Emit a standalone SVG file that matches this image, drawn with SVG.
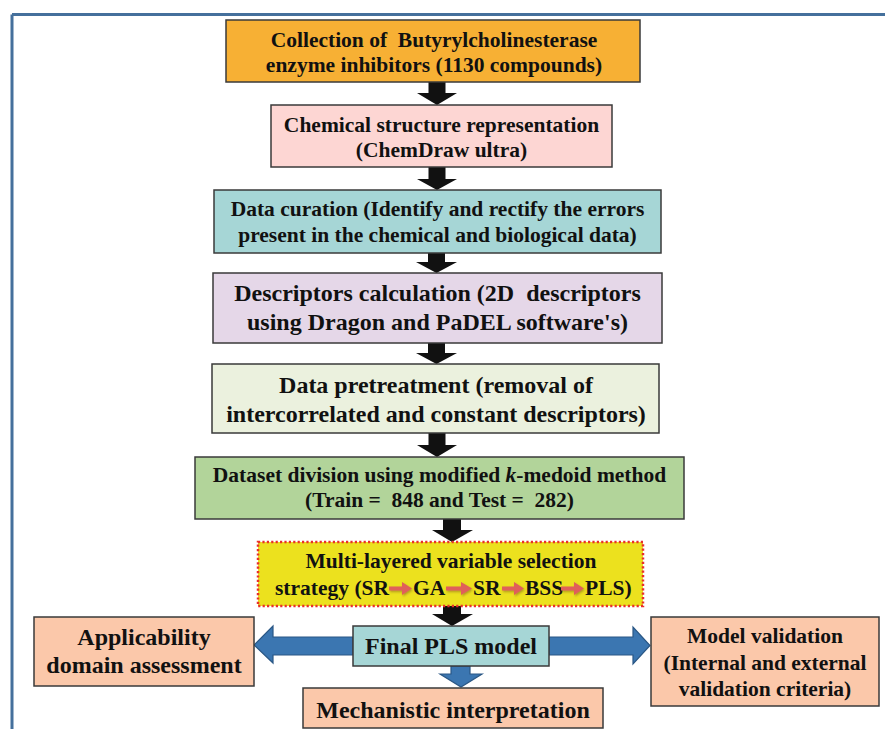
<svg xmlns="http://www.w3.org/2000/svg" width="885" height="729" viewBox="0 0 885 729" xml:space="preserve">
<defs>
<style>
.box{stroke:#3a3a3a;stroke-width:1.5}
.t{font-family:"Liberation Serif","Times New Roman",serif;font-weight:bold;fill:#111;text-anchor:middle;white-space:pre}
.s21{font-size:21.5px}
.s24{font-size:24px}
.blk{fill:#111}
.blue{fill:#3b76b1;stroke:#2a5785;stroke-width:1.2}
.red{fill:#e05e5a}
</style>
<filter id="sh" x="-20%" y="-40%" width="140%" height="180%">
<feDropShadow dx="1" dy="1.5" stdDeviation="0.8" flood-color="#8a6a20" flood-opacity="0.6"/>
</filter>
</defs>
<rect width="885" height="729" fill="#ffffff"/>
<g id="frame" fill="none" stroke="#45709c" stroke-width="3">
<line x1="12" y1="14.5" x2="885" y2="14.5"/>
<line x1="12" y1="14.5" x2="12" y2="729"/>
</g>

<g id="connectors">
<polygon class="blk" points="428.5,82 445.5,82 445.5,93 457,93 437,105 417,93 428.5,93"/>
<polygon class="blk" points="428.5,167 445.5,167 445.5,179 457,179 437,190 417,179 428.5,179"/>
<polygon class="blk" points="428,253 445,253 445,262 457,262 436.5,273 416,262 428,262"/>
<polygon class="blk" points="428,343 445,343 445,353 457,353 436.5,364 416,353 428,353"/>
<polygon class="blk" points="428.5,433 445.5,433 445.5,445 457,445 437,457 417,445 428.5,445"/>
<polygon class="blk" points="443,519 461,519 461,530 473,530 452,542 432,530 443,530"/>
<polygon class="blk" points="443,606 461,606 461,614 473,614 452,626 432,614 443,614"/>
<polygon class="blue" points="353,637 273,637 273,626 254,645 273,663 273,655 353,655"/>
<polygon class="blue" points="549,637 633,637 633,627 650,645.5 633,664 633,655 549,655"/>
<polygon class="blue" points="451,666 470,666 470,674 482,674 461,687 440,674 451,674"/>
</g>

<g id="n1">
<rect class="box" x="226" y="20" width="414" height="62" fill="#f7b034"/>
<text class="t s21" x="434" y="47">Collection of  Butyrylcholinesterase</text>
<text class="t s21" x="434" y="72">enzyme inhibitors (1130 compounds)</text>
</g>
<g id="n2">
<rect class="box" x="271" y="105" width="341" height="62" fill="#fdd6d3"/>
<text class="t s21" x="441.5" y="132">Chemical structure representation</text>
<text class="t s21" x="441.5" y="157">(ChemDraw ultra)</text>
</g>
<g id="n3">
<rect class="box" x="214" y="190" width="447" height="63" fill="#a6d6d6"/>
<text class="t s21" x="437.5" y="216">Data curation (Identify and rectify the errors</text>
<text class="t s21" x="437.5" y="242">present in the chemical and biological data)</text>
</g>
<g id="n4">
<rect class="box" x="213" y="273" width="449" height="70" fill="#e5d7e8"/>
<text class="t s24" x="437.5" y="301">Descriptors calculation (2D  descriptors</text>
<text class="t s24" x="437.5" y="330">using Dragon and PaDEL software's)</text>
</g>
<g id="n5">
<rect class="box" x="212" y="364" width="447" height="69" fill="#ebf1de"/>
<text class="t s24" x="436" y="393">Data pretreatment (removal of</text>
<text class="t s24" x="436" y="422">intercorrelated and constant descriptors)</text>
</g>
<g id="n6">
<rect class="box" x="195" y="457" width="489" height="62" fill="#b2d49a"/>
<text class="t s21" x="439.5" y="482">Dataset division using modified <tspan font-style="italic">k</tspan>-medoid method</text>
<text class="t s21" x="439.5" y="507">(Train =  848 and Test =  282)</text>
</g>
<g id="n7">
<rect x="258" y="542" width="385" height="64" fill="#ece11e" stroke="#e8302a" stroke-width="2.5" stroke-dasharray="2.2 2.2"/>
<text class="t s21" x="451" y="568">Multi-layered variable selection</text>
<text class="t s21" x="275" y="595" style="text-anchor:start">strategy (SR</text>
<text class="t s21" x="413" y="595" style="text-anchor:start">GA</text>
<text class="t s21" x="473" y="595" style="text-anchor:start">SR</text>
<text class="t s21" x="525" y="595" style="text-anchor:start">BSS</text>
<text class="t s21" x="585" y="595" style="text-anchor:start">PLS)</text>
<g filter="url(#sh)">
<polygon class="red" points="389,586.5 402,586.5 402,582 412,588.5 402,595 402,590.5 389,590.5"/>
<polygon class="red" points="446,586.5 461,586.5 461,582 472,588.5 461,595 461,590.5 446,590.5"/>
<polygon class="red" points="502,586.5 514,586.5 514,582 524,588.5 514,595 514,590.5 502,590.5"/>
<polygon class="red" points="561,586.5 574,586.5 574,582 584,588.5 574,595 574,590.5 561,590.5"/>
</g>
</g>
<g id="n8">
<rect class="box" x="353" y="626" width="196" height="40" fill="#a6d6d6"/>
<text class="t s24" x="451" y="654">Final PLS model</text>
</g>
<g id="n9">
<rect class="box" x="34" y="617" width="220" height="69" fill="#fbc8aa"/>
<text class="t s24" x="144" y="645">Applicability</text>
<text class="t s24" x="144" y="673">domain assessment</text>
</g>
<g id="n10">
<rect class="box" x="651" y="617" width="228" height="89" fill="#fbc8aa"/>
<text class="t s21" x="765" y="643">Model validation</text>
<text class="t s21" x="765" y="670">(Internal and external</text>
<text class="t s21" x="765" y="696">validation criteria)</text>
</g>
<g id="n11">
<rect class="box" x="303" y="688" width="300" height="40" fill="#fbc8aa"/>
<text class="t s24" x="453" y="718">Mechanistic interpretation</text>
</g>
</svg>
